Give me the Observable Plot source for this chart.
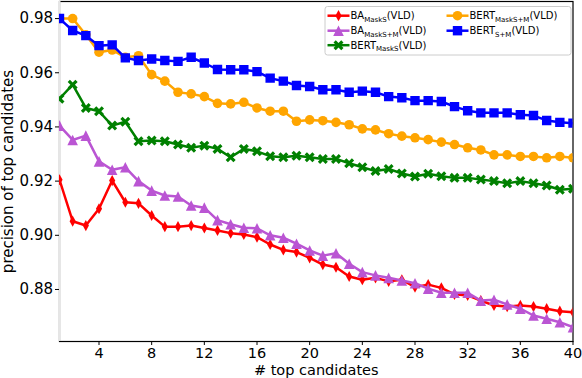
<!DOCTYPE html>
<html><head><meta charset="utf-8">
<script src="https://cdn.jsdelivr.net/npm/d3@7"></script>
<script src="https://cdn.jsdelivr.net/npm/@observablehq/plot@0.6"></script>
<style>body{margin:0;background:#fff} svg{display:block}</style>
</head><body><div id="chart"></div>
<script>
const candidates = [1,2,3,4,5,6,7,8,9,10,11,12,13,14,15,16,17,18,19,20,21,22,23,24,25,26,27,28,29,30,31,32,33,34,35,36,37,38,39,40];
const xTicks = [4,8,12,16,20,24,28,32,36,40];
const yTicks = [0.88,0.90,0.92,0.94,0.96,0.98];

const baMaskS = [0.9205,0.9052,0.9036,0.9098,0.9202,0.9122,0.9118,0.9073,0.9032,0.9032,0.9036,0.9027,0.9018,0.9008,0.9003,0.8993,0.8966,0.8946,0.8938,0.8917,0.8892,0.8882,0.8848,0.8836,0.8843,0.8830,0.8836,0.8809,0.8818,0.8806,0.8782,0.8778,0.8759,0.8741,0.8737,0.8741,0.8737,0.8729,0.8720,0.8716];
const baMaskSM = [0.9405,0.9352,0.9368,0.9273,0.9242,0.9251,0.9200,0.9165,0.9147,0.9143,0.9110,0.9102,0.9056,0.9041,0.9028,0.9026,0.9000,0.8991,0.8969,0.8944,0.8925,0.8934,0.8895,0.8864,0.8852,0.8843,0.8833,0.8823,0.8803,0.8788,0.8788,0.8788,0.8759,0.8762,0.8745,0.8729,0.8704,0.8692,0.8679,0.8661];
const bertMaskS = [0.9504,0.9556,0.9470,0.9458,0.9405,0.9419,0.9347,0.9350,0.9347,0.9335,0.9323,0.9331,0.9319,0.9288,0.9319,0.9310,0.9292,0.9288,0.9294,0.9288,0.9282,0.9282,0.9266,0.9251,0.9237,0.9245,0.9228,0.9217,0.9227,0.9218,0.9212,0.9212,0.9206,0.9200,0.9192,0.9200,0.9192,0.9184,0.9168,0.9172];
const bertMaskSM = [0.9800,0.9800,0.9740,0.9676,0.9684,0.9657,0.9663,0.9593,0.9569,0.9528,0.9522,0.9512,0.9487,0.9485,0.9491,0.9470,0.9458,0.9458,0.9421,0.9426,0.9423,0.9417,0.9408,0.9393,0.9389,0.9375,0.9366,0.9360,0.9353,0.9344,0.9335,0.9323,0.9315,0.9297,0.9297,0.9291,0.9291,0.9286,0.9291,0.9286];
const bertSM = [0.9800,0.9756,0.9737,0.9700,0.9703,0.9655,0.9645,0.9651,0.9645,0.9642,0.9657,0.9636,0.9612,0.9611,0.9611,0.9604,0.9580,0.9569,0.9553,0.9549,0.9537,0.9537,0.9528,0.9532,0.9528,0.9512,0.9508,0.9497,0.9497,0.9494,0.9475,0.9460,0.9452,0.9452,0.9452,0.9445,0.9442,0.9424,0.9417,0.9414];

const seriesBase = ["BA","BA","BERT","BERT","BERT"];
const seriesSub = ["MaskS","MaskS+M","MaskS","MaskS+M","S+M"];
const seriesSuffix = "(VLD)";
const seriesColors = ["#ff0000","#ba55d3","#008000","#ffa500","#0000ff"];
const seriesValues = [baMaskS, baMaskSM, bertMaskS, bertMaskSM, bertSM];

// marker shapes (size = area -> half extent h)
const half = s => Math.sqrt(s / Math.PI);
const thinDiamond = {draw(ctx, s){const h=half(s), w=0.55*h; ctx.moveTo(0,-h); ctx.lineTo(w,0); ctx.lineTo(0,h); ctx.lineTo(-w,0); ctx.closePath();}};
const triUp = {draw(ctx, s){const h=half(s); ctx.moveTo(0,-h); ctx.lineTo(h,h); ctx.lineTo(-h,h); ctx.closePath();}};
const filledX = {draw(ctx, s){const h=half(s), t=h*0.32, L=h*Math.SQRT2-t, c=Math.SQRT1_2;
  const pts=[[t,L],[t,t],[L,t],[L,-t],[t,-t],[t,-L],[-t,-L],[-t,-t],[-L,-t],[-L,t],[-t,t],[-t,L]];
  pts.forEach(([x,y],i)=>{const X=(x-y)*c, Y=(x+y)*c; if(i) ctx.lineTo(X,Y); else ctx.moveTo(X,Y);}); ctx.closePath();}};
const circ = {draw(ctx, s){const h=half(s); ctx.moveTo(h,0); ctx.arc(0,0,h,0,2*Math.PI);}};
const sq = {draw(ctx, s){const h=half(s); ctx.rect(-h,-h,2*h,2*h);}};
const seriesSymbols = [thinDiamond, triUp, filledX, circ, sq];
const seriesR = [5.6, 5.3, 5.0, 4.8, 4.7];

const xDomain = [1, 40];
const yDomain = [0.8608, 0.9863];

const marks = [Plot.frame({stroke: "black", strokeWidth: 1.2}),
  Plot.ruleX([xDomain[0]], {stroke: "#e6e6e6", strokeWidth: 2})];
seriesValues.forEach((vals, k) => {
  const data = candidates.map((c, i) => ({x: c, y: vals[i]}));
  marks.push(Plot.line(data, {x: "x", y: "y", stroke: seriesColors[k], strokeWidth: 2.5, clip: true}));
  marks.push(Plot.dot(data, {x: "x", y: "y", fill: seriesColors[k], stroke: "none", symbol: seriesSymbols[k], r: seriesR[k], clip: true}));
});
marks.push(Plot.axisX({ticks: xTicks, tickSize: 4, tickPadding: 2, fontSize: 14.5, label: "# top candidates", labelAnchor: "center", labelArrow: "none", labelOffset: 33.5}));
marks.push(Plot.axisY({ticks: yTicks, tickSize: 4, tickPadding: 2.5, tickFormat: d3.format(".2f"), label: "precision of top candidates", labelAnchor: "center", labelArrow: "none", labelOffset: 57.5}));

const svg = Plot.plot({
  width: 582, height: 378,
  marginLeft: 59, marginRight: 9.5, marginTop: 1, marginBottom: 37,
  style: {fontFamily: "DejaVu Sans", fontSize: "15px", color: "black", background: "white"},
  x: {domain: xDomain},
  y: {domain: yDomain},
  marks
});
document.getElementById("chart").appendChild(svg);

// legend (matplotlib style, upper right inside axes)
const g = d3.select(svg).append("g").attr("font-family", "DejaVu Sans").attr("fill", "black").attr("text-anchor", "start");
g.append("rect").attr("x", 325).attr("y", 6.5).attr("width", 246).attr("height", 48.5).attr("rx", 2.5)
  .attr("fill", "white").attr("fill-opacity", 0.8).attr("stroke", "#cccccc").attr("stroke-width", 1);
const slots = [[327.5, 15.7], [327.5, 30.7], [327.5, 45.2], [446.5, 15.7], [446.5, 30.7]];
seriesValues.forEach((_, k) => {
  const [x0, y0] = slots[k];
  g.append("line").attr("x1", x0).attr("x2", x0 + 22).attr("y1", y0).attr("y2", y0)
    .attr("stroke", seriesColors[k]).attr("stroke-width", 2.5);
  g.append("path").attr("transform", `translate(${x0 + 11},${y0})`)
    .attr("d", d3.symbol(seriesSymbols[k], Math.PI * seriesR[k] * seriesR[k])())
    .attr("fill", seriesColors[k]);
  const t = g.append("text").attr("x", x0 + 23).attr("y", y0 + 3.6).attr("font-size", 10).attr("text-anchor", "start");
  t.append("tspan").text(seriesBase[k]);
  t.append("tspan").attr("font-size", 7).attr("dy", 2.2).text(seriesSub[k]);
  t.append("tspan").attr("dy", -2.2).text(seriesSuffix);
});
</script></body></html>
